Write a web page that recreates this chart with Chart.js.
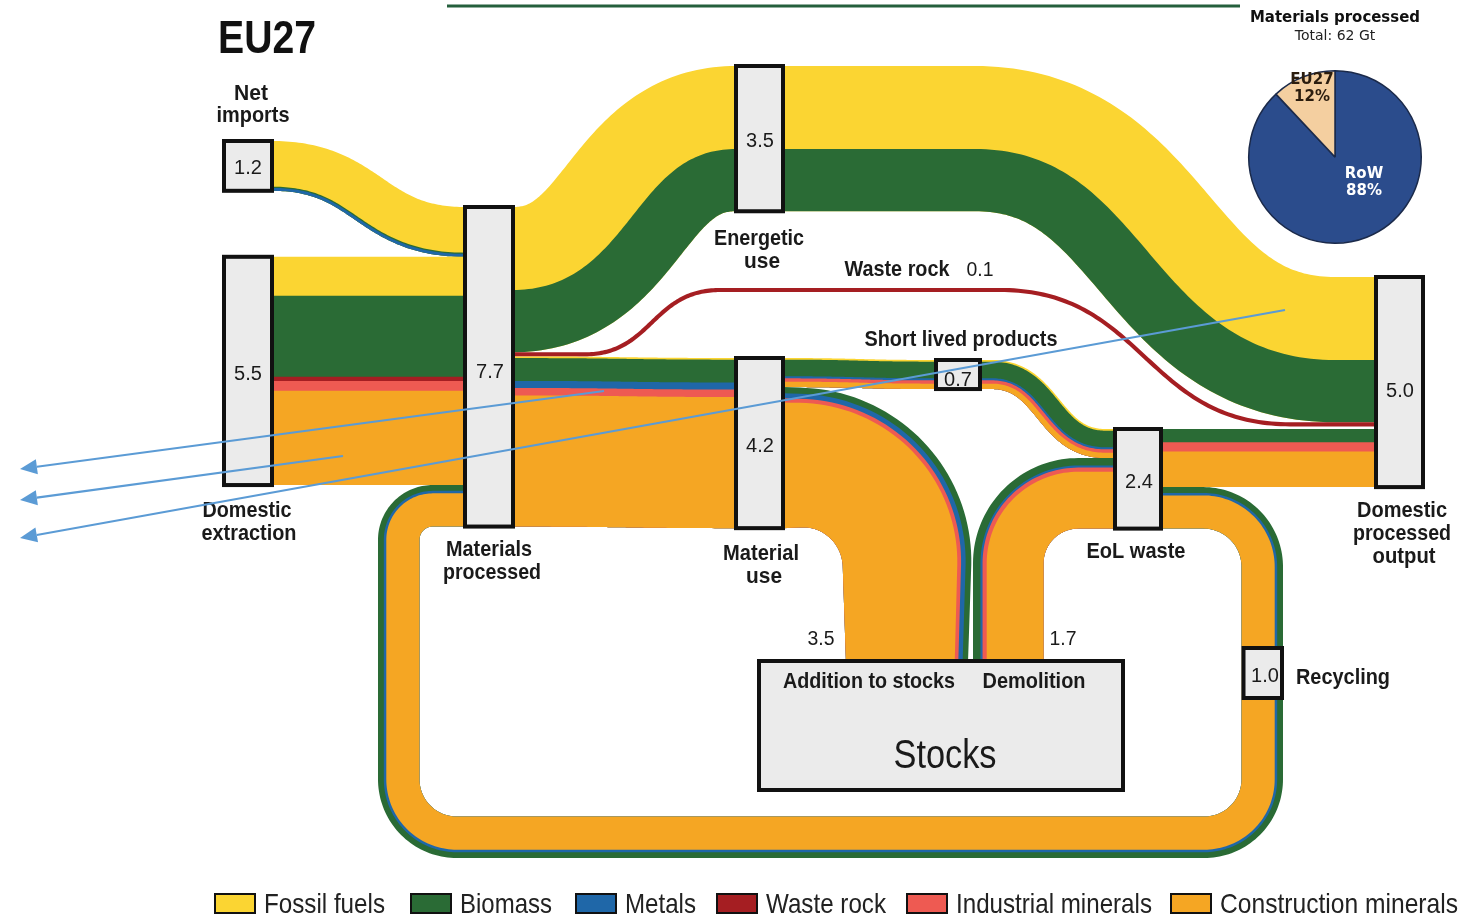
<!DOCTYPE html>
<html><head><meta charset="utf-8">
<script src="https://cdn.jsdelivr.net/npm/chart.js@4.4.1/dist/chart.umd.min.js"></script>
<style>
html,body{margin:0;padding:0;background:#fff;}
#wrap{position:relative;width:1473px;height:916px;overflow:hidden;}
#main{position:absolute;left:0;top:0;width:1473px;height:916px;}
#pieBox{position:absolute;left:1247px;top:69px;width:176px;height:176px;}
</style></head><body>
<div id="wrap"><div id="main"><canvas id="c"></canvas></div><div id="pieBox"><canvas id="p"></canvas></div></div>
<script>
// ================= DATA (Gt) =================
const materials = ['Fossil fuels','Biomass','Metals','Waste rock','Industrial minerals','Construction minerals'];
const nodeNames = ['Net imports','Domestic extraction','Materials processed','Energetic use','Material use','Short lived products','EoL waste','Domestic processed output','Recycling'];
const nodeValues = [1.2, 5.5, 7.7, 3.5, 4.2, 0.7, 2.4, 5.0, 1.0];
// flows by material, order as in `materials`
const netImports          = [1.10, 0.03, 0.07, 0,    0,    0   ];
const domesticExtraction  = [0.94, 1.95, 0,    0.10, 0.24, 2.27];
const recyclingFlow       = [0,    0.14, 0.06, 0,    0,    0.80];
const energeticUse        = [2.00, 1.50, 0,    0,    0,    0   ];
const wasteRockFlow       = [0,    0,    0,    0.10, 0,    0   ];
const shortLivedProducts  = [0.04, 0.40, 0.05, 0,    0.08, 0.13];
const additionToStocks    = [0,    0.15, 0.12, 0,    0.10, 3.03];
const demolitionFlow      = [0,    0.18, 0.05, 0,    0.10, 1.37];
const eolToOutput         = [0,    0.32, 0,    0,    0.22, 0.86];
const materialUseFlow     = shortLivedProducts.map((v,i)=>v+additionToStocks[i]);
const flowLabelValues     = {wasteRock:'0.1', addition:'3.5', demolition:'1.7'};
const pieLabels = ['RoW','EU27'];
const pieShares = [88, 12];

// ================= STYLE / LAYOUT =================
const colors = ['#FBD532','#2A6B35','#1F67A8','#A51E22','#EE5A52','#F5A623'];
const K = 41.5; // layout units per Gt
const FONT = '"Liberation Sans", Arial, Helvetica, sans-serif';
const VFONT = '"DejaVu Sans", Verdana, sans-serif';
const sum = a => a.reduce((s,v)=>s+v,0);
const W = a => sum(a)*K;

const L = {};
L.MP  = {x0:463, x1:515, top:207};
L.NI  = {x0:222, x1:274, top:141};
L.DE  = {x0:222, x1:274, top:L.MP.top + W(netImports)};
L.EU  = {x0:734, x1:785, top:66};
L.MU  = {x0:734, x1:785, top:358};
L.SLP = {x0:934, x1:982, top:360};
L.EOL = {x0:1113, x1:1163, top:429};
L.DPO = {x0:1374, x1:1425, top:277};
L.ST  = {x0:757, x1:1125, y0:659, y1:792};
L.REC = {y0:646, y1:700};
const mpRightWR = L.MP.top + W(energeticUse);
const mpRightMU = mpRightWR + W(wasteRockFlow);
const muRightADD = L.MU.top + W(shortLivedProducts);
const eolLeftDEM = L.EOL.top + W(shortLivedProducts);
const eolRightREC = L.EOL.top + W(eolToOutput);
const dpoWR = L.DPO.top + W(energeticUse);
const mpLeftREC = L.DE.top + W(domesticExtraction);

// ================= GEOMETRY HELPERS =================
function lineSeg(out,x0,y0,x1,y1){
  const len=Math.hypot(x1-x0,y1-y0); if(len<1e-6) return;
  const tx=(x1-x0)/len, ty=(y1-y0)/len, n=Math.max(2,Math.ceil(len/20));
  for(let i=0;i<=n;i++){const t=i/n; out.push({x:x0+(x1-x0)*t,y:y0+(y1-y0)*t,tx,ty});}
}
function bezSeg(out,p0,p1,p2,p3,n=90){
  for(let i=0;i<=n;i++){
    const t=i/n,u=1-t;
    const x=u*u*u*p0[0]+3*u*u*t*p1[0]+3*u*t*t*p2[0]+t*t*t*p3[0];
    const y=u*u*u*p0[1]+3*u*u*t*p1[1]+3*u*t*t*p2[1]+t*t*t*p3[1];
    let dx=3*u*u*(p1[0]-p0[0])+6*u*t*(p2[0]-p1[0])+3*t*t*(p3[0]-p2[0]);
    let dy=3*u*u*(p1[1]-p0[1])+6*u*t*(p2[1]-p1[1])+3*t*t*(p3[1]-p2[1]);
    let d=Math.hypot(dx,dy); if(d<1e-9){dx=1;dy=0;d=1;}
    out.push({x,y,tx:dx/d,ty:dy/d});
  }
}
function sPath(x0,top0,x1,top1,w,xa,xb){
  const y0=top0+w/2,y1=top1+w/2,out=[];
  xa = xa===undefined?x0:xa; xb = xb===undefined?x1:xb;
  lineSeg(out,x0,y0,xa,y0);
  const xm=(xa+xb)/2; bezSeg(out,[xa,y0],[xm,y0],[xm,y1],[xb,y1]);
  lineSeg(out,xb,y1,x1,y1);
  return out;
}
function roundPath(pts,radii){
  const out=[]; let cur=pts[0];
  for(let i=1;i<pts.length-1;i++){
    const C=pts[i],P=pts[i-1],N=pts[i+1],r=radii[i-1];
    let ux=C[0]-P[0],uy=C[1]-P[1],lu=Math.hypot(ux,uy);ux/=lu;uy/=lu;
    let vx=N[0]-C[0],vy=N[1]-C[1],lv=Math.hypot(vx,vy);vx/=lv;vy/=lv;
    const T1=[C[0]-ux*r,C[1]-uy*r];
    lineSeg(out,cur[0],cur[1],T1[0],T1[1]);
    const cx=C[0]-ux*r+vx*r, cy=C[1]-uy*r+vy*r, n=40;
    for(let k=0;k<=n;k++){
      const f=k/n*Math.PI/2,c=Math.cos(f),s=Math.sin(f);
      out.push({x:cx-vx*r*c+ux*r*s,y:cy-vy*r*c+uy*r*s,tx:ux*c+vx*s,ty:uy*c+vy*s});
    }
    cur=[C[0]+vx*r,C[1]+vy*r];
  }
  const E=pts[pts.length-1]; lineSeg(out,cur[0],cur[1],E[0],E[1]);
  return out;
}
function drawBand(ctx,X,Y,S,amounts,taper){
  const w=W(amounts);
  const Ls=[0]; for(let i=1;i<S.length;i++) Ls.push(Ls[i-1]+Math.hypot(S[i].x-S[i-1].x,S[i].y-S[i-1].y));
  const tot=Ls[Ls.length-1]||1;
  const f=i=>taper?1+(taper-1)*Ls[i]/tot:1;
  let cum=0;
  amounts.forEach((a,m)=>{
    if(a<=0) return;
    const o1=-w/2+cum*K; cum+=a;
    ctx.beginPath();
    S.forEach((p,i)=>{const o=o1*f(i);const px=X(p.x-p.ty*o),py=Y(p.y+p.tx*o); i?ctx.lineTo(px,py):ctx.moveTo(px,py);});
    for(let i=S.length-1;i>=0;i--){const p=S[i];const o=(w/2)*f(i);ctx.lineTo(X(p.x-p.ty*o),Y(p.y+p.tx*o));}
    ctx.closePath(); ctx.fillStyle=colors[m]; ctx.fill();
  });
}

// ================= FLOWS =================
function buildFlows(){
  const F=[];
  const wr=W(recyclingFlow), h=wr/2;
  F.push({a:recyclingFlow,S:roundPath([[L.EOL.x1-2,eolRightREC+h],[1283-h,eolRightREC+h],[1283-h,858-h],[378+h,858-h],[378+h,mpLeftREC+h],[L.MP.x0+2,mpLeftREC+h]],[59,58,58,34])});
  F.push({a:netImports,S:sPath(L.NI.x1-2,L.NI.top,L.MP.x0+2,L.MP.top,W(netImports))});
  F.push({a:domesticExtraction,S:sPath(L.DE.x1-2,L.DE.top,L.MP.x0+2,L.DE.top,W(domesticExtraction))});
  F.push({a:energeticUse,S:sPath(L.MP.x1-2,L.MP.top,L.EU.x0+2,L.EU.top,W(energeticUse))});
  F.push({a:energeticUse,S:sPath(L.EU.x1-2,L.EU.top,L.DPO.x0+2,L.DPO.top,W(energeticUse),975,1335)});
  const wrc=W(wasteRockFlow)/2, y0=mpRightWR+wrc, y1=dpoWR+wrc, S=[];
  lineSeg(S,L.MP.x1-2,y0,585,y0); bezSeg(S,[585,y0],[652,y0],[652,290],[720,290]);
  lineSeg(S,720,290,1000,290); bezSeg(S,[1000,290],[1145,290],[1145,y1],[1290,y1]);
  lineSeg(S,1290,y1,L.DPO.x0+2,y1);
  F.push({a:wasteRockFlow,S});
  F.push({a:materialUseFlow,S:sPath(L.MP.x1-2,mpRightMU,L.MU.x0+2,L.MU.top,W(materialUseFlow))});
  F.push({a:shortLivedProducts,S:sPath(L.MU.x1-2,L.MU.top,L.SLP.x0+2,L.SLP.top,W(shortLivedProducts))});
  const wa=W(additionToStocks), taper=0.865, cxA=968-wa*taper/2;
  F.push({a:additionToStocks,taper,S:roundPath([[L.MU.x1-2,muRightADD+wa/2],[cxA,muRightADD+wa/2],[cxA,L.ST.y0+3]],[107])});
  F.push({a:shortLivedProducts,S:sPath(L.SLP.x1-2,L.SLP.top,L.EOL.x0+2,L.EOL.top,W(shortLivedProducts),992,1105)});
  const wd=W(demolitionFlow);
  F.push({a:demolitionFlow,S:roundPath([[973+wd/2,L.ST.y0+3],[973+wd/2,eolLeftDEM+wd/2],[L.EOL.x0+2,eolLeftDEM+wd/2]],[70])});
  F.push({a:eolToOutput,S:sPath(L.EOL.x1-2,L.EOL.top,L.DPO.x0+2,L.EOL.top,W(eolToOutput))});
  return F;
}

function txt(ctx,s,x,y,size,bold,align,color,maxW,family){
  ctx.font=(bold?'bold ':'')+size+'px '+(family||FONT);
  ctx.textAlign=align||'center'; ctx.textBaseline='alphabetic'; ctx.fillStyle=color||'#1a1a1a';
  if(maxW) ctx.fillText(s,x,y,maxW); else ctx.fillText(s,x,y);
}

const sankeyPlugin = {
  id:'mfaSankey',
  afterDatasetsDraw(chart){
    const ctx=chart.ctx, xs=chart.scales.x, ys=chart.scales.y;
    const X=v=>xs.getPixelForValue(v), Y=v=>ys.getPixelForValue(v);
    ctx.save();
    ctx.strokeStyle='#245F3C'; ctx.lineWidth=3; ctx.beginPath(); ctx.moveTo(X(447),Y(6)); ctx.lineTo(X(1240),Y(6)); ctx.stroke();
    buildFlows().forEach(f=>drawBand(ctx,X,Y,f.S,f.a,f.taper));
    const boxR=(x0,y0,x1,y1,lw)=>{
      lw=lw||4;
      ctx.fillStyle='#EBEBEB'; ctx.fillRect(X(x0),Y(y0),X(x1)-X(x0),Y(y1)-Y(y0));
      ctx.strokeStyle='#111'; ctx.lineWidth=lw;
      ctx.strokeRect(X(x0)+lw/2,Y(y0)+lw/2,X(x1)-X(x0)-lw,Y(y1)-Y(y0)-lw);
    };
    const nb=(n,h)=>boxR(n.x0,n.top-2,n.x1,n.top+h+2);
    nb(L.NI,W(netImports));
    nb(L.DE,W(domesticExtraction));
    nb(L.MP,W(netImports)+W(domesticExtraction)+W(recyclingFlow));
    nb(L.EU,W(energeticUse));
    nb(L.MU,W(materialUseFlow));
    nb(L.SLP,W(shortLivedProducts));
    nb(L.EOL,W(shortLivedProducts)+W(demolitionFlow));
    nb(L.DPO,(L.EOL.top+W(eolToOutput))-L.DPO.top);
    const wr=W(recyclingFlow);
    boxR(1283-wr,L.REC.y0,1284,L.REC.y1);
    boxR(L.ST.x0,L.ST.y0,L.ST.x1,L.ST.y1);
    const v=i=>nodeValues[i].toFixed(1);
    txt(ctx,v(0),X(248),Y(174),20,false);
    txt(ctx,v(1),X(248),Y(380),20,false);
    txt(ctx,v(2),X(490),Y(378),20,false);
    txt(ctx,v(3),X(760),Y(147),20,false);
    txt(ctx,v(4),X(760),Y(452),20,false);
    txt(ctx,v(5),X(958),Y(386),20,false);
    txt(ctx,v(6),X(1139),Y(488),20,false);
    txt(ctx,v(7),X(1400),Y(397),20,false);
    txt(ctx,v(8),X(1265),Y(682),20,false);
    txt(ctx,'EU27',X(218),Y(53),46,true,'left','#111',98);
    txt(ctx,'Net',X(251),Y(100),22,true,'center',null,34);
    txt(ctx,'imports',X(253),Y(122),22,true,'center',null,73);
    txt(ctx,'Domestic',X(247),Y(517),22,true,'center',null,89);
    txt(ctx,'extraction',X(249),Y(540),22,true,'center',null,95);
    txt(ctx,'Materials',X(489),Y(556),22,true,'center',null,86);
    txt(ctx,'processed',X(492),Y(579),22,true,'center',null,98);
    txt(ctx,'Energetic',X(759),Y(245),22,true,'center',null,90);
    txt(ctx,'use',X(762),Y(268),22,true,'center',null,36);
    txt(ctx,'Waste rock',X(897),Y(276),22,true,'center',null,105);
    txt(ctx,flowLabelValues.wasteRock,X(980),Y(276),20,false,'center',null,27);
    txt(ctx,'Short lived products',X(961),Y(346),22,true,'center',null,193);
    txt(ctx,'Material',X(761),Y(560),22,true,'center',null,76);
    txt(ctx,'use',X(764),Y(583),22,true,'center',null,36);
    txt(ctx,'EoL waste',X(1136),Y(558),22,true,'center',null,99);
    txt(ctx,'Domestic',X(1402),Y(517),22,true,'center',null,90);
    txt(ctx,'processed',X(1402),Y(540),22,true,'center',null,98);
    txt(ctx,'output',X(1404),Y(563),22,true,'center',null,63);
    txt(ctx,flowLabelValues.addition,X(821),Y(645),20,false,'center',null,27);
    txt(ctx,flowLabelValues.demolition,X(1063),Y(645),20,false,'center',null,27);
    txt(ctx,'Addition to stocks',X(869),Y(688),22,true,'center',null,172);
    txt(ctx,'Demolition',X(1034),Y(688),22,true,'center',null,103);
    txt(ctx,'Stocks',X(945),Y(768),40,false,'center',null,103);
    txt(ctx,'Recycling',X(1296),Y(684),22,true,'left',null,94);
    txt(ctx,'Materials processed',X(1335),Y(22),16,true,'center','#111',170,VFONT);
    txt(ctx,'Total: 62 Gt',X(1335),Y(40),14,false,'center','#222',82,VFONT);
    const lgX=[214,410,575,716,906,1170], lgW=[121,92,71,120,196,238];
    materials.forEach((m,i)=>{
      ctx.fillStyle=colors[i]; ctx.fillRect(X(lgX[i]),Y(893),42,21);
      ctx.strokeStyle='#111'; ctx.lineWidth=2; ctx.strokeRect(X(lgX[i])+1,Y(893)+1,40,19);
      txt(ctx,m,X(lgX[i]+50),Y(913),28,false,'left','#222',lgW[i]);
    });
    const arrows=[[604,391,20,469],[343,456,20,500],[1285,310,20,538]];
    ctx.strokeStyle='#5B9BD5'; ctx.fillStyle='#5B9BD5'; ctx.lineWidth=2.2;
    arrows.forEach(a=>{
      const x0=X(a[0]),y0=Y(a[1]),x1=X(a[2]),y1=Y(a[3]);
      const d=Math.hypot(x1-x0,y1-y0),ux=(x1-x0)/d,uy=(y1-y0)/d,hl=17,hw=7.5;
      const bx=x1-ux*hl,by=y1-uy*hl;
      ctx.beginPath(); ctx.moveTo(x0,y0); ctx.lineTo(bx,by); ctx.stroke();
      ctx.beginPath(); ctx.moveTo(x1,y1); ctx.lineTo(bx-uy*hw,by+ux*hw); ctx.lineTo(bx+uy*hw,by-ux*hw); ctx.closePath(); ctx.fill();
    });
    ctx.restore();
  }
};

new Chart(document.getElementById('c'),{
  type:'scatter',
  data:{datasets:[{label:'nodes',data:nodeValues.map(()=>({x:0,y:0})),pointRadius:0,showLine:false}]},
  options:{responsive:true,maintainAspectRatio:false,animation:false,events:[],
    layout:{padding:0},
    plugins:{legend:{display:false},tooltip:{enabled:false}},
    scales:{x:{type:'linear',min:0,max:1473,display:false},y:{type:'linear',min:0,max:916,reverse:true,display:false}}},
  plugins:[sankeyPlugin]
});

const pieLabelPlugin={
  id:'pieLbl',
  afterDatasetsDraw(chart){
    const ctx=chart.ctx, arc=chart.getDatasetMeta(0).data[0];
    const cx=arc.x, cy=arc.y;
    ctx.save();
    txt(ctx,pieLabels[1],cx-23,cy-73,15,true,'center','#2b1d0e',null,VFONT);
    txt(ctx,pieShares[1]+'%',cx-23,cy-56,15,true,'center','#2b1d0e',null,VFONT);
    txt(ctx,pieLabels[0],cx+29,cy+21,15,true,'center','#ffffff',null,VFONT);
    txt(ctx,pieShares[0]+'%',cx+29,cy+38,15,true,'center','#ffffff',null,VFONT);
    ctx.restore();
  }
};
new Chart(document.getElementById('p'),{
  type:'pie',
  data:{labels:pieLabels,datasets:[{data:pieShares,backgroundColor:['#2B4C8C','#F4CFA0'],borderColor:'#1b2a4a',borderWidth:1.5}]},
  options:{responsive:true,maintainAspectRatio:false,animation:false,events:[],layout:{padding:1},
    plugins:{legend:{display:false},tooltip:{enabled:false}}},
  plugins:[pieLabelPlugin]
});
</script></body></html>
